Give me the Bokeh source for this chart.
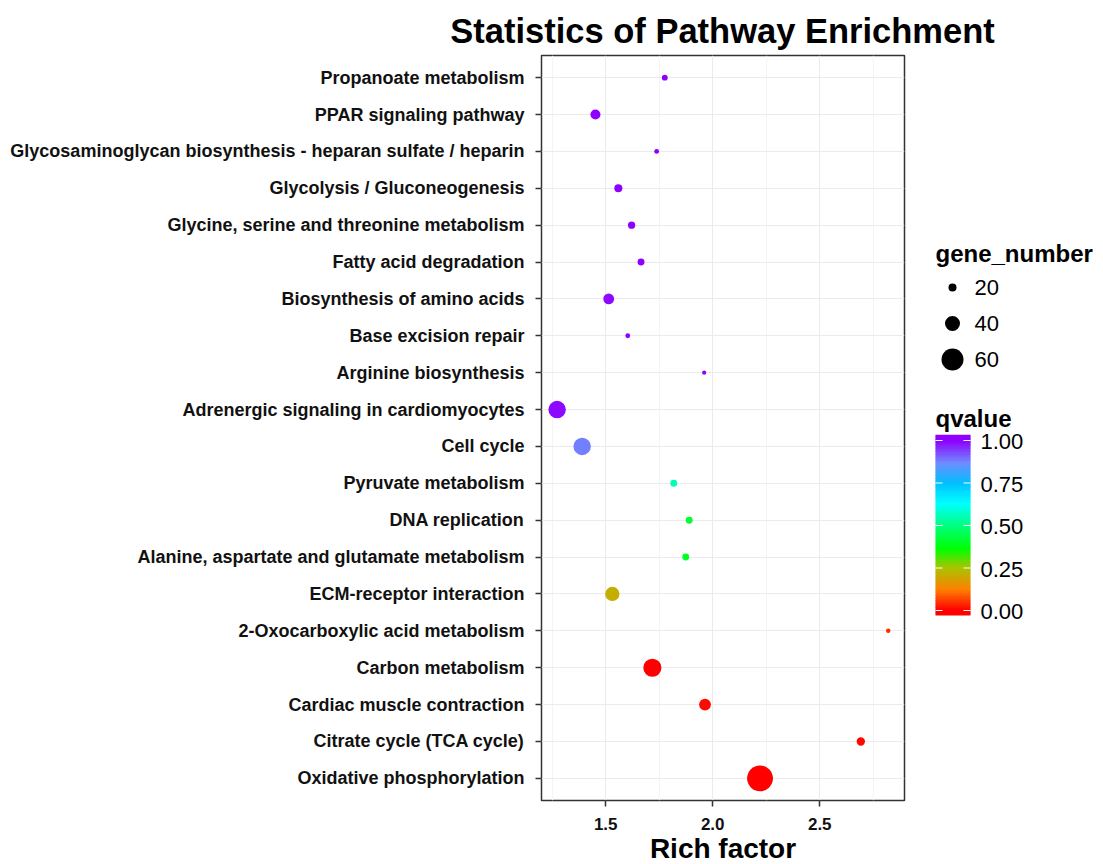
from bokeh.plotting import figure
from bokeh.models import Range1d, FactorRange, FixedTicker, ColumnDataSource, NumeralTickFormatter
from bokeh.layouts import row, column
from bokeh.transform import linear_cmap
from bokeh.core.properties import value
from bokeh.embed import file_html
from bokeh.resources import INLINE

# ---------------- data (bottom -> top) ----------------
pathways = [
    "Oxidative phosphorylation",
    "Citrate cycle (TCA cycle)",
    "Cardiac muscle contraction",
    "Carbon metabolism",
    "2-Oxocarboxylic acid metabolism",
    "ECM-receptor interaction",
    "Alanine, aspartate and glutamate metabolism",
    "DNA replication",
    "Pyruvate metabolism",
    "Cell cycle",
    "Adrenergic signaling in cardiomyocytes",
    "Arginine biosynthesis",
    "Base excision repair",
    "Biosynthesis of amino acids",
    "Fatty acid degradation",
    "Glycine, serine and threonine metabolism",
    "Glycolysis / Gluconeogenesis",
    "Glycosaminoglycan biosynthesis - heparan sulfate / heparin",
    "PPAR signaling pathway",
    "Propanoate metabolism",
]
rich_factor = [2.221, 2.692, 1.964, 1.718, 2.820, 1.531, 1.874, 1.890, 1.818, 1.390,
               1.273, 1.960, 1.603, 1.514, 1.665, 1.621, 1.559, 1.738, 1.452, 1.776]
gene_number = [71, 21, 31, 49, 10, 38, 17, 17, 17, 47,
               47, 9, 11, 28, 17, 18, 20, 11, 26, 14]
qvalue = [0.0, 0.01, 0.01, 0.0, 0.04, 0.21, 0.40, 0.42, 0.55, 0.88,
          0.99, 1.0, 1.0, 0.99, 1.0, 1.0, 1.0, 1.0, 1.0, 1.0]

x_ticks = [1.5, 2.0, 2.5]
x_minor_ticks = [1.25, 1.75, 2.25, 2.75]
size_legend_values = [20, 40, 60]
q_ticks = [0.0, 0.25, 0.5, 0.75, 1.0]
q_tick_labels = ["0.00", "0.25", "0.50", "0.75", "1.00"]

title_text = "Statistics of Pathway Enrichment"
FONT = "Liberation Sans"

# ---------------- colour scale ----------------
stops = [(0.0, "#FF0000"), (0.12, "#FF7F00"), (0.25, "#A8C400"), (0.36, "#00FF00"),
         (0.5, "#00FF80"), (0.63, "#00FFFF"), (0.75, "#00BFFF"), (0.87, "#6F8CFF"),
         (1.0, "#8F00FF")]


def hex2rgb(h):
    return tuple(int(h[i:i + 2], 16) for i in (1, 3, 5))


def interp_color(t):
    for (t0, c0), (t1, c1) in zip(stops[:-1], stops[1:]):
        if t <= t1:
            f = (t - t0) / (t1 - t0) if t1 > t0 else 0
            a, b = hex2rgb(c0), hex2rgb(c1)
            return "#%02X%02X%02X" % tuple(round(a[k] + (b[k] - a[k]) * f) for k in range(3))
    return stops[-1][1]


palette = [interp_color(i / 255) for i in range(256)]


def dot_size(n):
    return 1.0 + 0.35 * n


# ---------------- layout constants (page pixels) ----------------
TITLE_H = 53
FRAME_TOP = 55          # page y of panel top
FRAME_H = 745
BORDER_TOP = FRAME_TOP - TITLE_H
BORDER_BOTTOM = 64
MAIN_W = 910

# ---------------- title strip ----------------
tf = figure(width=1103, height=TITLE_H, x_range=Range1d(0, 1103), y_range=Range1d(TITLE_H, 0),
            title=None, output_backend="svg", toolbar_location=None,
            x_axis_type=None, y_axis_type=None,
            min_border_left=0, min_border_right=0, min_border_top=0, min_border_bottom=0)
tf.outline_line_color = None
tf.grid.visible = False
tf.text(x=[722], y=[30], text=[title_text], text_font=value(FONT), text_font_size="34.5px",
        text_font_style="bold", text_align="center", text_baseline="middle",
        text_color="#000000")

# ---------------- main plot ----------------
src = ColumnDataSource(dict(
    pathway=pathways, rich=rich_factor, genes=gene_number, q=qvalue,
    sz=[dot_size(n) for n in gene_number]))

p = figure(width=MAIN_W, frame_height=FRAME_H, title=None,
           x_range=Range1d(1.2, 2.896),
           y_range=FactorRange(factors=pathways, range_padding=0.1, range_padding_units="absolute"),
           output_backend="svg", toolbar_location=None,
           min_border_left=541, min_border_right=6,
           min_border_top=BORDER_TOP, min_border_bottom=BORDER_BOTTOM)

p.scatter(x="rich", y="pathway", size="sz", source=src,
          fill_color=linear_cmap("q", palette, 0, 1), line_color=None)

p.outline_line_color = "#333333"
p.outline_line_width = 1.5
p.background_fill_color = "white"

p.xaxis.ticker = FixedTicker(ticks=x_ticks, minor_ticks=x_minor_ticks)
p.xaxis.formatter = NumeralTickFormatter(format="0.0")
p.xaxis.axis_label = "Rich factor"
p.xaxis.axis_label_text_font = FONT
p.xaxis.axis_label_text_font_size = "28px"
p.xaxis.axis_label_text_font_style = "bold"
p.xaxis.axis_label_text_color = "#000000"
p.xaxis.axis_label_standoff = 0
p.xaxis.major_label_standoff = 11

for ax in (p.xaxis[0], p.yaxis[0]):
    ax.axis_line_color = None
    ax.major_tick_out = 6
    ax.major_tick_in = 0
    ax.major_tick_line_color = "#333333"
    ax.major_tick_line_width = 1.5
    ax.minor_tick_line_color = None
    ax.major_label_text_font = FONT
    ax.major_label_text_font_style = "bold"
    ax.major_label_text_color = "#111111"

p.xaxis.major_label_text_font_size = "17px"
p.yaxis.major_label_text_font_size = "18px"
p.yaxis.major_label_standoff = 11

p.xgrid.grid_line_color = "#EBEBEB"
p.xgrid.minor_grid_line_color = "#F4F4F4"
p.ygrid.grid_line_color = "#EBEBEB"

# ---------------- legend panel (coords = page pixels) ----------------
lg = figure(width=1103 - MAIN_W, frame_height=FRAME_H, title=None,
            x_range=Range1d(MAIN_W, 1103), y_range=Range1d(FRAME_TOP + FRAME_H, FRAME_TOP),
            output_backend="svg", toolbar_location=None,
            x_axis_type=None, y_axis_type=None,
            min_border_left=0, min_border_right=0,
            min_border_top=BORDER_TOP, min_border_bottom=BORDER_BOTTOM)
lg.outline_line_color = None
lg.grid.visible = False

lg.text(x=[935], y=[253], text=["gene_number"], text_font=value(FONT),
        text_font_size="24px", text_font_style="bold", text_baseline="middle",
        text_color="#000000")
size_y = [287 + 36 * i for i in range(len(size_legend_values))]
lg.scatter(x=[952] * len(size_legend_values), y=size_y,
           size=[dot_size(v) for v in size_legend_values],
           fill_color="black", line_color=None)
lg.text(x=[974] * len(size_legend_values), y=size_y,
        text=[str(v) for v in size_legend_values],
        text_font=value(FONT), text_font_size="22px", text_baseline="middle",
        text_color="#000000")

lg.text(x=[935], y=[418], text=["qvalue"], text_font=value(FONT),
        text_font_size="24px", text_font_style="bold", text_baseline="middle",
        text_color="#000000")

q0_y, q_unit = 610, 170     # page y of qvalue 0, pixels per qvalue unit
bar_l, bar_r = 935, 970
nseg = 120
v_lo, v_hi = -0.03, 1.03
step = (v_hi - v_lo) / nseg
vals = [v_lo + (i + 0.5) * step for i in range(nseg)]
bsrc = ColumnDataSource(dict(
    v=vals,
    bottom=[q0_y - (v_lo + i * step) * q_unit for i in range(nseg)],
    top=[q0_y - (v_lo + (i + 1) * step) * q_unit - 0.6 for i in range(nseg)]))
lg.quad(left=bar_l, right=bar_r, bottom="bottom", top="top", source=bsrc,
        fill_color=linear_cmap("v", palette, 0, 1), line_color=None)

tick_y = [q0_y - q * q_unit for q in q_ticks]
lg.segment(x0=[bar_l] * 5, x1=[bar_l + 7] * 5, y0=tick_y, y1=tick_y, line_color="white", line_width=1.2)
lg.segment(x0=[bar_r - 7] * 5, x1=[bar_r] * 5, y0=tick_y, y1=tick_y, line_color="white", line_width=1.2)
lg.text(x=[980] * 5, y=[t + 1 for t in tick_y], text=q_tick_labels, text_font=value(FONT),
        text_font_size="22px", text_baseline="middle", text_color="#000000")

layout = column(tf, row(p, lg))
open("out.html", "w").write(file_html(layout, INLINE))
